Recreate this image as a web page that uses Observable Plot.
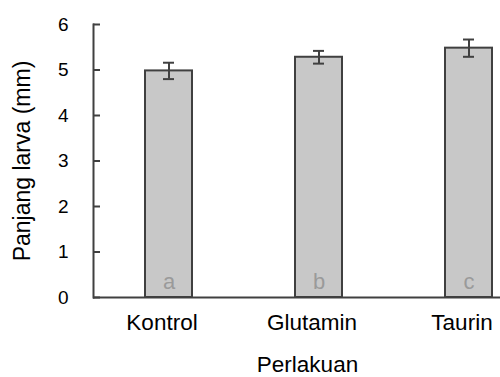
<!DOCTYPE html>
<html><head><meta charset="utf-8">
<script src="https://cdn.jsdelivr.net/npm/d3@7"></script>
<script src="https://cdn.jsdelivr.net/npm/@observablehq/plot@0.6"></script>
<style>html,body{margin:0;padding:0;overflow:hidden;background:#fff;width:500px;height:377px}
#chart svg{max-width:none !important;display:block}</style>
</head><body><div id="chart"></div>
<script>
const categories = ["Kontrol", "Glutamin", "Taurin"];
const means = [4.98, 5.28, 5.48];
const errors = [0.18, 0.14, 0.19];
const letters = ["a", "b", "c"];
const yTicks = [0, 1, 2, 3, 4, 5, 6];
const yLabel = "Panjang larva (mm)";
const xLabel = "Perlakuan";

const data = categories.map((c, i) => ({cat: c, mean: means[i], err: errors[i], letter: letters[i]}));
const font = "'Liberation Sans', Arial, sans-serif";
const dark = "#404040";

const chart = Plot.plot({
  width: 543, height: 377,
  marginLeft: 93, marginRight: 0, marginTop: 24, marginBottom: 80,
  style: {fontFamily: font, background: "#fff", color: "#000", fontSize: "18px", maxWidth: "none"},
  x: {domain: categories, paddingInner: 0.687, paddingOuter: 0.3435, align: 0.5},
  y: {domain: [0, 6]},
  marks: [
    Plot.barY(data, {x: "cat", y: "mean", fill: "#c8c8c8", stroke: dark, strokeWidth: 2}),
    Plot.ruleX(data, {x: "cat", y1: d => d.mean - d.err, y2: d => d.mean + d.err, stroke: dark, strokeWidth: 2}),
    Plot.tickY(data, {x: "cat", y: d => d.mean + d.err, insetLeft: 18, insetRight: 18, stroke: dark, strokeWidth: 2}),
    Plot.tickY(data, {x: "cat", y: d => d.mean - d.err, insetLeft: 18, insetRight: 18, stroke: dark, strokeWidth: 2}),
    Plot.text(data, {x: "cat", y: 0, text: "letter", dy: -9, lineAnchor: "bottom", fill: "#9a9a9a", fontSize: 22}),
    Plot.axisY({ticks: yTicks, tickSize: -7, text: null, stroke: dark, strokeWidth: 2, label: null}),
    Plot.axisY({ticks: yTicks, tickSize: 0, tickPadding: 25, tickFormat: d3.format("d"), fontSize: 19, label: null, fill: "#000"}),
    Plot.axisX({tickSize: 0, tickPadding: 17, fontSize: 22.5, dx: -7, label: null, fill: "#000"}),
    Plot.ruleY([0], {stroke: dark, strokeWidth: 2}),
    Plot.frame({anchor: "left", stroke: dark, strokeWidth: 2}),
    Plot.text([yLabel], {frameAnchor: "left", textAnchor: "middle", rotate: -90, dx: -71, fontSize: 23, fill: "#000"}),
    Plot.text([xLabel], {frameAnchor: "bottom", dy: 74, dx: -11, fontSize: 22.5, fill: "#000"})
  ]
});
document.getElementById("chart").appendChild(chart);
</script>
</body></html>
